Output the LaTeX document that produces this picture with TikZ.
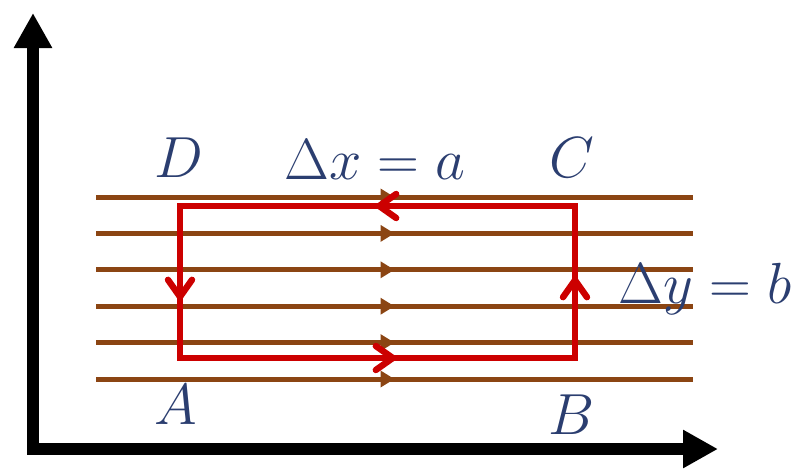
\RequirePackage{fix-cm}
\documentclass[tikz,border=0pt]{standalone}
\definecolor{fieldBrown}{HTML}{8B4513}
\definecolor{loopRed}{HTML}{CC0000}
\definecolor{labelBlue}{HTML}{2B3E70}
\usetikzlibrary{arrows.meta, decorations.markings}

\tikzset{
  axisLine/.style={line width=6pt, -{Triangle[length=17.5pt,width=18pt]}},
  fieldLine/.style={fieldBrown, line width=2.5pt,
    postaction={decorate}, decoration={markings,
      mark=at position 0.5 with {\arrow{Triangle[length=7pt,width=8pt]}}}},
  loopLine/.style={loopRed, line width=3.2pt, line join=miter,
    postaction={decorate}, decoration={markings,
      mark=at position 108pt with {\arrow{Straight Barb[length=8.5pt,width=12pt,round]}},
      mark=at position 238pt with {\arrow{Straight Barb[length=8.5pt,width=12pt,round]}},
      mark=at position 373pt with {\arrow{Straight Barb[length=8.5pt,width=12pt,round]}},
      mark=at position 518pt with {\arrow{Straight Barb[length=8.5pt,width=12pt,round]}}}},
  labelText/.style={text=labelBlue, inner sep=0pt, anchor=base,
    font=\fontsize{29}{34}\selectfont}
}

\begin{document}
\begin{tikzpicture}[x=0.5pt, y=-0.5pt]
        \useasboundingbox (0,0) rectangle (805,468);
        % axes
        \coordinate (origin) at (33,449);
        \coordinate (yTip) at (33,13);
        \coordinate (xTip) at (718,449);
        \draw[axisLine] (origin) -- (yTip);
        \draw[axisLine] (origin) -- (xTip);
        \fill (origin) ++(-3pt,-3pt) rectangle ++(6pt,6pt);

        % field lines
        \foreach \y in {197, 233.4, 269.8, 306.2, 342.6, 379}
          \draw[fieldLine] (96,\y) -- (693,\y);

        % loop
        \coordinate (A) at (180,358);
        \coordinate (B) at (575,358);
        \coordinate (C) at (575,206);
        \coordinate (D) at (180,206);
        \draw[loopLine] (A) -- (B) -- (C) -- (D) -- cycle;

        \node[labelText] (labD) at (179,177) {$D$};
        \node[labelText] (labC) at (572,177) {$C$};
        \node[labelText] (labA) at (176,424) {$A$};
        \node[labelText] (labB) at (572,434) {$B$};
        \node[labelText] (labDx) at (375,179) {$\Delta x = a$};
        \node[labelText] (labDy) at (705,303) {$\Delta y = b$};
      \end{tikzpicture}
\end{document}
